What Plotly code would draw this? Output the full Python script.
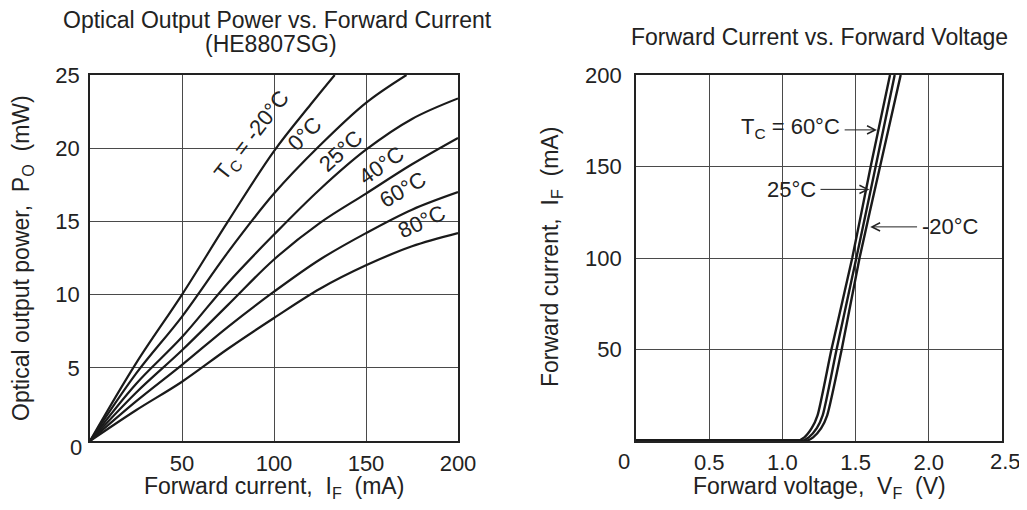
import numpy as np
import plotly.graph_objects as go

# ---------------- Data: left chart (Optical output power vs forward current) -------------
temps_left = ["-20", "0", "25", "40", "60", "80"]
if_m20 = [0, 25, 50, 75, 100, 120, 133]
po_m20 = [0, 5.3, 10.0, 15.0, 19.8, 23.0, 25.0]
if_0 = [0, 25, 50, 75, 100, 125, 150, 172]
po_0 = [0, 4.6, 8.5, 12.9, 16.9, 20.2, 23.1, 25.0]
if_common = [0, 25, 50, 75, 100, 125, 150, 175, 200]
po_25 = [0, 3.9, 7.1, 10.8, 14.1, 17.2, 19.9, 22.0, 23.4]
po_40 = [0, 3.3, 6.2, 9.3, 12.4, 14.9, 16.9, 18.9, 20.7]
po_60 = [0, 2.7, 5.2, 7.8, 10.2, 12.4, 14.2, 15.8, 17.0]
po_80 = [0, 2.1, 4.05, 6.3, 8.4, 10.4, 12.0, 13.3, 14.2]

left_x_ticks = [50, 100, 150, 200]
left_y_ticks = [0, 5, 10, 15, 20, 25]
left_y_text = ["", "5", "10", "15", "20", "25"]

# ---------------- Data: right chart (Forward current vs forward voltage) -----------------
i_f = [0, 0, 2, 7, 14, 50, 100, 150, 200]
vf_60 = [0, 1.10, 1.15, 1.20, 1.24, 1.335, 1.477, 1.603, 1.735]
vf_25 = [0, 1.13, 1.18, 1.235, 1.275, 1.37, 1.505, 1.637, 1.767]
vf_m20 = [0, 1.16, 1.21, 1.265, 1.306, 1.405, 1.527, 1.667, 1.808]

right_x_ticks = [0, 0.5, 1.0, 1.5, 2.0, 2.5]
right_x_text = ["", "0.5", "1.0", "1.5", "2.0", ""]
right_y_ticks = [50, 100, 150, 200]

# arrow target currents for the right-chart labels
arrow_i_60, arrow_i_25, arrow_i_m20 = 170, 137.5, 117

FONT = "Liberation Sans, Arial, sans-serif"
W, H = 1011, 494   # leaves room for the page's 8px body margin without scrollbars
OFF = 8            # page body margin offset
LC = "#1a1a1a"
TXT = "#222"

fig = go.Figure()

left_series = [(if_m20, po_m20), (if_0, po_0), (if_common, po_25),
               (if_common, po_40), (if_common, po_60), (if_common, po_80)]
for (xs, ys), t in zip(left_series, temps_left):
    fig.add_trace(go.Scatter(x=xs, y=ys, mode="lines", name=t,
                             line=dict(color=LC, width=2.2, shape="spline", smoothing=1.0),
                             xaxis="x", yaxis="y", showlegend=False, hoverinfo="skip"))

for vs, t in [(vf_60, "60"), (vf_25, "25"), (vf_m20, "-20")]:
    fig.add_trace(go.Scatter(x=vs, y=i_f, mode="lines", name=t,
                             line=dict(color=LC, width=2.4, shape="spline", smoothing=0.6),
                             xaxis="x2", yaxis="y2", showlegend=False, hoverinfo="skip"))


def px(xpix):
    return (xpix - OFF) / W


def py(ypix):
    return 1 - (ypix - OFF) / H


grid = "#4a4a4a"
axis_common = dict(showline=True, linecolor=TXT, linewidth=1.6, mirror=True, automargin=False,
                   showgrid=True, gridcolor=grid, gridwidth=1, zeroline=False, ticks="",
                   tickfont=dict(family=FONT, size=22, color=TXT), fixedrange=True)

fig.update_layout(
    width=W, height=H,
    margin=dict(l=0, r=0, t=0, b=0, autoexpand=False),
    paper_bgcolor="white", plot_bgcolor="white",
    font=dict(family=FONT, color=TXT),
    xaxis=dict(domain=[px(90), px(458)], range=[0, 200], tickvals=left_x_ticks,
               anchor="y", ticklabelstandoff=2, **axis_common),
    yaxis=dict(domain=[py(441), py(75)], range=[0, 25], tickvals=left_y_ticks,
               ticktext=left_y_text, anchor="x", ticklabelstandoff=4, **axis_common),
    xaxis2=dict(domain=[px(636), px(1002)], range=[0, 2.5], tickvals=right_x_ticks,
                ticktext=right_x_text, anchor="y2", ticklabelstandoff=1, **axis_common),
    yaxis2=dict(domain=[py(441), py(75)], range=[0, 200], tickvals=right_y_ticks,
                anchor="x2", ticklabelstandoff=8, **axis_common),
    shapes=[dict(type="line", xref="x2", yref="y2", x0=0, x1=vf_60[1] + 0.03, y0=0, y1=0,
                 line=dict(color=LC, width=4), layer="above")],
)

ann = []
tf = dict(family=FONT, size=22, color=TXT)
tt = dict(family=FONT, size=23, color=TXT)
# titles
ann.append(dict(text="Optical Output Power vs. Forward Current", x=px(277), y=py(20),
                xref="paper", yref="paper", showarrow=False, font=tt,
                xanchor="center", yanchor="middle"))
ann.append(dict(text="(HE8807SG)", x=px(271), y=py(44),
                xref="paper", yref="paper", showarrow=False, font=tt,
                xanchor="center", yanchor="middle"))
ann.append(dict(text="Forward Current vs. Forward Voltage", x=px(819), y=py(37),
                xref="paper", yref="paper", showarrow=False, font=tt,
                xanchor="center", yanchor="middle"))
# axis titles (kept inside the visible page)
ann.append(dict(text="Forward current,  I<sub>F</sub>  (mA)", x=px(274), y=py(487), xref="paper",
                yref="paper", showarrow=False, font=tt, xanchor="center", yanchor="middle"))
ann.append(dict(text="Forward voltage,  V<sub>F</sub>  (V)", x=px(819), y=py(487), xref="paper",
                yref="paper", showarrow=False, font=tt, xanchor="center", yanchor="middle"))
ann.append(dict(text="Optical output power,  P<sub>O</sub>  (mW)", x=px(22), y=py(258), xref="paper",
                yref="paper", showarrow=False, font=tt, textangle=-90, xanchor="center", yanchor="middle"))
ann.append(dict(text="Forward current,  I<sub>F</sub>  (mA)", x=px(551), y=py(257), xref="paper",
                yref="paper", showarrow=False, font=tt, textangle=-90, xanchor="center", yanchor="middle"))

# end tick labels placed slightly outside like the reference
ann.append(dict(text="0", x=0, y=0, xref="x", yref="y", showarrow=False, font=tf,
                xanchor="right", yanchor="middle", xshift=-6, yshift=-6))
ann.append(dict(text="0", x=0, y=0, xref="x2", yref="y2", showarrow=False, font=tf,
                xanchor="center", yanchor="top", xshift=-12, yshift=-6))
ann.append(dict(text="2.5", x=2.5, y=0, xref="x2", yref="y2", showarrow=False, font=tf,
                xanchor="center", yanchor="top", xshift=3, yshift=-6))

# left curve labels
left_labels = [("T<sub>C</sub> = -20°C", 88.6, 20.8, -52),
               ("0°C", 116.8, 21.0, -45),
               ("25°C", 135.9, 19.8, -42),
               ("40°C", 158.2, 18.8, -35),
               ("60°C", 170.1, 17.2, -30),
               ("80°C", 180.4, 15.0, -25)]
for txt, xv, yv, ang in left_labels:
    ann.append(dict(text=txt, x=xv, y=yv, xref="x", yref="y", showarrow=False, font=tf,
                    textangle=ang, xanchor="center", yanchor="middle"))

# right chart arrows (tip at curve position interpolated from data)
tip60 = float(np.interp(arrow_i_60, i_f[1:], vf_60[1:]))
tip25 = float(np.interp(arrow_i_25, i_f[1:], vf_25[1:]))
tipm20 = float(np.interp(arrow_i_m20, i_f[1:], vf_m20[1:]))

for tipx, tipy, tailx in [(tip60 - 0.01, arrow_i_60, 1.415), (tip25 - 0.01, arrow_i_25, 1.25),
                          (tipm20 + 0.025, arrow_i_m20, 1.93)]:
    ann.append(dict(text="", x=tipx, y=tipy, xref="x2", yref="y2", ax=tailx, ay=tipy,
                    axref="x2", ayref="y2", showarrow=True, arrowhead=5, arrowsize=1.6,
                    arrowwidth=1, arrowcolor=TXT, standoff=0))

ann.append(dict(text="T<sub>C</sub> = 60°C", x=1.41, y=arrow_i_60 + 1, xref="x2", yref="y2",
                showarrow=False, font=tf, xanchor="right", yanchor="middle"))
ann.append(dict(text="25°C", x=1.24, y=arrow_i_25, xref="x2", yref="y2",
                showarrow=False, font=tf, xanchor="right", yanchor="middle"))
ann.append(dict(text="-20°C", x=1.94, y=arrow_i_m20, xref="x2", yref="y2",
                showarrow=False, font=tf, xanchor="left", yanchor="middle"))

fig.update_layout(annotations=ann)
fig.write_html("out.html")
